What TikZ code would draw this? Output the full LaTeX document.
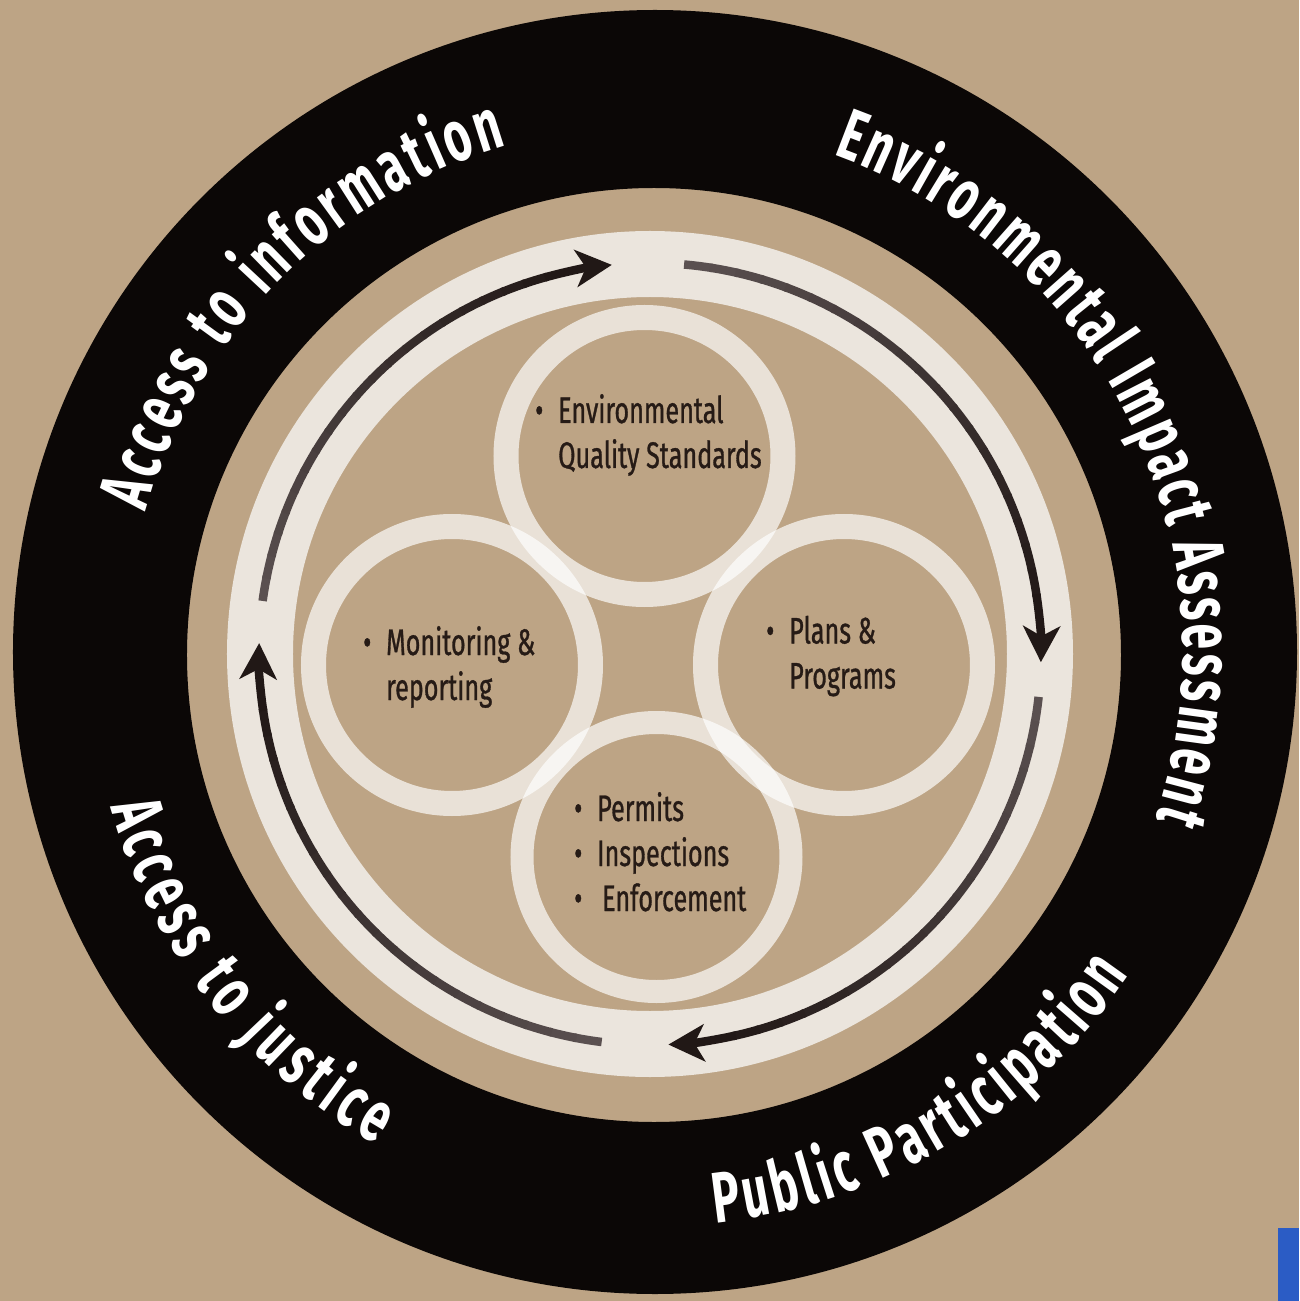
\documentclass[tikz,border=0pt]{standalone}
\usepackage{fontspec}
\setmainfont{Fira Sans}
\newfontfamily\ringfont{Fira Sans}[FakeStretch=0.64]
\newfontfamily\circfont{Fira Sans}[FakeStretch=0.68, FakeBold=0.8]
\usetikzlibrary{decorations.text,arrows.meta}
\definecolor{tanbg}{HTML}{BDA485}
\definecolor{ringblack}{HTML}{0B0706}
\definecolor{cream}{HTML}{EBE5DD}
\definecolor{ink}{HTML}{261B16}
\definecolor{tailc}{HTML}{5A5050}
\definecolor{headc}{HTML}{211816}
\definecolor{blueish}{HTML}{2B5CC5}
\newcommand{\ringtext}{\ringfont\bfseries\fontsize{72}{72}\selectfont}
\newcommand{\bul}{\makebox[23pt][l]{\textbullet}}
\newcommand{\gradarrow}[2]{%
  \pgfmathsetmacro\arlen{#1-#2-10}%
  \foreach \k in {0,...,19}{%
    \pgfmathsetmacro\aA{#1-\arlen*\k/20}%
    \pgfmathsetmacro\aB{#1-\arlen*(\k+1)/20-0.4}%
    \pgfmathsetmacro\pc{100*\k/20}%
    \draw[arrowline, headc!\pc!tailc] (\aA:391pt) arc[start angle=\aA, end angle=\aB, radius=391pt];
  }%
  \pgfmathsetmacro\aC{#2+10}%
  \draw[arrowline, headc, -{Stealth[length=36pt,width=37pt,inset=10pt]}] (\aC:391pt) arc[start angle=\aC, end angle=#2, radius=391pt];
}
\tikzset{
  arrowline/.style={line width=8.5pt},
  smallring/.style={draw=white, draw opacity=0.68, line width=25pt},
  circtext/.style={anchor=base west, inner sep=0pt, text=ink, font=\circfont\fontsize{37}{45}\selectfont},
  ringlabel/.style={decorate, decoration={text along path, text align=fit to path, text color=white, text={#1}}}
}
\begin{document}
\begin{tikzpicture}[x=1pt,y=1pt]
\useasboundingbox (-650,-647) rectangle (649,654);
\fill[tanbg] (-650,-647) rectangle (649,654);
% black outer ring
\fill[ringblack, even odd rule] (5,2) circle[radius=642pt] (4,-1) circle[radius=467pt];
% cream ring
\draw[cream, line width=66pt] (0,0) circle[radius=390pt];
% small rings
\draw[smallring] (-5.5,198) circle[radius=138.5pt];
\draw[smallring] (-198,-11) circle[radius=138.5pt];
\draw[smallring] (194,-11) circle[radius=138.5pt];
\draw[smallring, line width=23pt] (6.5,-203) circle[radius=134.5pt];
% arrows
\gradarrow{172.2}{95.6}
\gradarrow{85}{-1.2}
\gradarrow{-6.3}{-87.3}
\gradarrow{-97.1}{-181.6}
% ring labels
\path[shift={(5,2)}, ringlabel={|\ringtext|Access to information}] (164.6:528pt) arc[start angle=164.6, end angle=106.3, radius=528pt];
\path[shift={(5,2)}, ringlabel={|\ringtext|Environmental Impact Assessment}] (70.3:528pt) arc[start angle=70.3, end angle=-18.4, radius=528pt];
\path[shift={(5,2)}, ringlabel={|\ringtext|Public Participation}] (-84:574pt) arc[start angle=-84, end angle=-34.3, radius=574pt];
\path[shift={(5,2)}, ringlabel={|\ringtext|Access to justice}] (195.9:566pt) arc[start angle=195.9, end angle=240.5, radius=566pt];
% circle texts
\node[circtext] (eqs) at (-115,231) {\begin{tabular}[t]{@{}l@{}}\bul Environmental\\ \hspace*{23pt}Quality Standards\end{tabular}};
\node[circtext] (mon) at (-287,-1) {\begin{tabular}[t]{@{}l@{}}\bul Monitoring \&\\ \hspace*{23pt}reporting\end{tabular}};
\node[circtext] (plans) at (116,10.5) {\begin{tabular}[t]{@{}l@{}}\bul Plans \&\\ \hspace*{23pt}Programs\end{tabular}};
\node[circtext] (perm) at (-76,-167) {\begin{tabular}[t]{@{}l@{}}\bul Permits\\ \bul Inspections\\ \bul\hspace{5pt}Enforcement\end{tabular}};
% blue fragment
\fill[blueish] (628,-647) rectangle (649,-574);
\end{tikzpicture}
\end{document}
